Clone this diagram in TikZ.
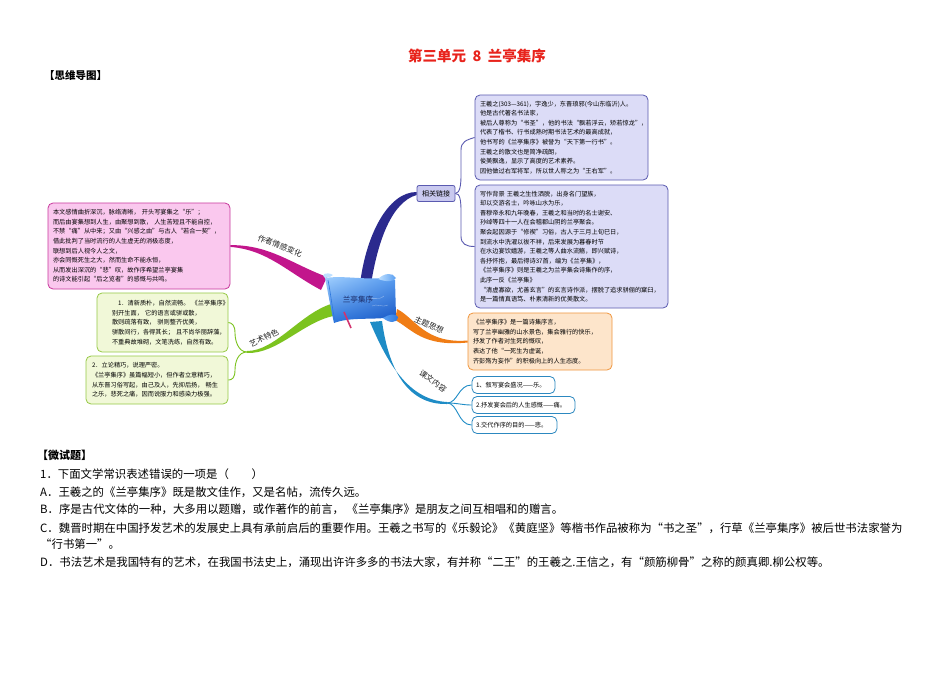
\documentclass[tikz,border=0pt]{standalone}
\usepackage{fontspec}
\setmainfont{Noto Sans CJK SC}
\usetikzlibrary{calc,shadings}
\definecolor{titlered}{HTML}{E8231C}
\definecolor{navybr}{HTML}{2B2A8E}
\definecolor{purpleline}{HTML}{5A5AB0}
\definecolor{purplefill}{HTML}{DCDCF7}
\definecolor{linkfill}{HTML}{C9C9EF}
\definecolor{magbr}{HTML}{C2168C}
\definecolor{pinkline}{HTML}{C8389C}
\definecolor{pinkfill}{HTML}{FAC8EE}
\definecolor{greenbr}{HTML}{7CC31F}
\definecolor{greenline}{HTML}{96C945}
\definecolor{greenfill}{HTML}{F1F8D8}
\definecolor{orangebr}{HTML}{F07D16}
\definecolor{orangeline}{HTML}{F0963E}
\definecolor{orangefill}{HTML}{FDE5CB}
\definecolor{bluebr}{HTML}{1E8CC6}
\definecolor{blueline}{HTML}{2C88C0}
\definecolor{scrolltl}{HTML}{A6D3FF}
\definecolor{scrolltr}{HTML}{5A9FF2}
\definecolor{scrollbl}{HTML}{2E78DE}
\definecolor{scrollbr}{HTML}{1553C2}
\definecolor{scrolllight}{HTML}{BFE0FF}
\definecolor{scrolltext}{HTML}{1A2A66}
\definecolor{pencol}{HTML}{D2336E}
\definecolor{labgray}{HTML}{222222}
\begin{document}
\begin{tikzpicture}[x=1pt,y=-1pt,
  box/.style={draw, rounded corners=5pt, line width=0.8pt, align=left,
    font=\fontsize{6.2}{9.6}\selectfont, inner ysep=2pt, text=black},
  brlab/.style={font=\fontsize{7.8}{8}\selectfont, text=labgray, inner sep=0pt},
  qline/.style={anchor=base west, font=\fontsize{11.4}{12}\selectfont, inner sep=0pt},
  brace/.style={line width=0.9pt}
]
\useasboundingbox (0,0) rectangle (950,672);
\fill[white] (0,0) rectangle (950,672);

% ---------- headings ----------
\node[font=\bfseries\fontsize{14.5}{15}\selectfont, text=titlered, inner sep=0pt] (title) at (477,56) {第三单元\hspace{0.45em}8\hspace{0.45em}兰亭集序};
\node[font=\bfseries\fontsize{10.5}{11}\selectfont, anchor=west, inner sep=0pt] (maphead) at (44,75) {【思维导图】};

% ---------- boxes ----------
\node[box, draw=purpleline, fill=purplefill, text width=163pt, inner xsep=5pt, minimum height=85pt] (rel1) at (561.5,137.5) {%
王羲之(303—361)，字逸少，东晋琅邪(今山东临沂)人。\\
他是古代著名书法家，\\
被后人尊称为“书圣”，他的书法“飘若浮云，矫若惊龙”，\\
代表了楷书、行书成熟时期书法艺术的最高成就，\\
他书写的《兰亭集序》被誉为“天下第一行书”。\\
王羲之的散文也是简净疏朗，\\
俊美飘逸，显示了高度的艺术素养。\\
因他做过右军将军，所以世人称之为“王右军”。};

\node[box, draw=purpleline, fill=purplefill, text width=183pt, inner xsep=5pt, minimum height=123pt] (rel2) at (571.5,246.5) {%
写作背景~王羲之生性洒脱，出身名门望族，\\
却以交游名士，吟咏山水为乐，\\
晋穆帝永和九年晚春，王羲之和当时的名士谢安、\\
孙绰等四十一人在会稽郡山阴的兰亭聚会。\\
聚会起因源于“修禊”习俗，古人于三月上旬巳日，\\
到流水中洗濯以祓不祥，后来发展为暮春时节\\
在水边宴饮嬉游，王羲之等人曲水流觞，即兴赋诗，\\
各抒怀抱，最后得诗37首，编为《兰亭集》，\\
《兰亭集序》则是王羲之为兰亭集会诗集作的序，\\
此序一反《兰亭集》\\
“清虚寡欲，尤善玄言”的玄言诗作派，摆脱了追求骈俪的窠臼，\\
是一篇情真语笃、朴素清新的优美散文。};

\node[draw=purpleline, fill=linkfill, rounded corners=2pt, line width=0.8pt, minimum width=38pt, minimum height=16pt, inner sep=1pt, font=\fontsize{7}{8}\selectfont] (link) at (436,193.5) {相关链接};

\node[box, draw=pinkline, fill=pinkfill, text width=172pt, inner xsep=5pt, minimum height=86pt] (emo) at (139,246) {%
本文感情曲折深沉，脉络清晰，~开头写宴集之“乐”；\\
而后由宴集想到人生，由聚想到散，~人生苦短且不能自控，\\
不禁“痛”从中来；又由“兴感之由”与古人“若合一契”，\\
借此批判了当时流行的人生虚无的消极态度，\\
联想到后人视今人之文，\\
亦会同慨死生之大，然而生命不能永恒，\\
从而发出深沉的“悲”叹，故作序希望兰亭宴集\\
的诗文能引起“后之览者”的感慨与共鸣。};

\node[box, draw=greenline, fill=greenfill, text width=101pt, inner xsep=15pt, minimum height=59pt] (art1) at (162.5,322.5) {%
\hspace*{6pt}1．清新质朴，自然流畅。~《兰亭集序》\\
别开生面，~它的语言或骈或散，\\
散则疏落有致，~骈则整齐优美，\\
骈散间行，各得其长；~且不尚华丽辞藻，\\
不重典故堆砌，文笔洗练，自然有致。};

\node[box, draw=greenline, fill=greenfill, text width=130pt, inner xsep=6pt, minimum height=48pt] (art2) at (157,380) {%
2．立论精巧，说理严密。\\
《兰亭集序》虽篇幅短小，但作者立意精巧，\\
从东晋习俗写起，由己及人，先抑后扬，~畅生\\
之乐，悲死之痛，因而说服力和感染力极强。};

\node[box, draw=orangeline, fill=orangefill, text width=134pt, inner xsep=5pt, minimum height=57pt] (theme) at (540,341.5) {%
《兰亭集序》是一篇诗集序言，\\
写了兰亭幽雅的山水景色，集会雅行的快乐，\\
抒发了作者对生死的慨叹，\\
表达了他“一死生为虚诞，\\
齐彭殇为妄作”的积极向上的人生态度。};

\node[box, draw=blueline, fill=white, text width=75pt, inner xsep=4pt, minimum height=17pt] (c1) at (513.5,385) {1、叙写宴会盛况——乐。};
\node[box, draw=blueline, fill=white, text width=95pt, inner xsep=4pt, minimum height=17pt] (c2) at (523.5,405) {2.抒发宴会后的人生感慨——痛。};
\node[box, draw=blueline, fill=white, text width=77pt, inner xsep=4pt, minimum height=17pt] (c3) at (514.5,425) {3.交代作序的目的——悲。};

% ---------- tapered branches ----------
% navy to link
\fill[navybr] (360,284) .. controls (366,235) and (388,192) .. ($(link.west)+(0,-1.5)$)
  -- ($(link.west)+(0,1.5)$) .. controls (392,202) and (378,240) .. (371,284) -- cycle;
% magenta to emotion box
\fill[magbr] ($(emo.east)+(0,-0.9)$) .. controls (270,245) and (290,263) .. (327,277)
  -- (321,290) .. controls (287,272) and (268,250) .. ($(emo.east)+(0,0.9)$) -- cycle;
% green to art
\coordinate (gj) at (247,352);
\fill[greenbr] ($(gj)+(0,-1)$) .. controls (275,351) and (300,314) .. (331,304)
  -- (333,316) .. controls (302,323) and (277,354) .. ($(gj)+(0,1)$) -- cycle;
% orange to theme
\fill[orangebr] (397,309) .. controls (415,318) and (425,344) .. ($(theme.west)+(0,-1)$)
  -- ($(theme.west)+(0,1)$) .. controls (422,347) and (412,329) .. (395,320) -- cycle;
% blue to content
\coordinate (bj) at (447,403);
\fill[bluebr] (370,322) .. controls (387,362) and (408,400) .. ($(bj)+(0,-1)$)
  -- ($(bj)+(0,1)$) .. controls (405,405) and (388,365) .. (382,321) -- cycle;

% ---------- braces ----------
\draw[purpleline, brace] (link.east) .. controls (460,193) and (461,185) .. (461,175)
  -- (461,150) .. controls (461,142) and (466,140) .. (rel1.west);
\draw[purpleline, brace] (link.east) .. controls (460,193) and (461,201) .. (461,211)
  -- (461,236) .. controls (461,244) and (466,246.5) .. (rel2.west);
\draw[greenbr, brace] (gj) .. controls (238,352) and (235,340) .. (235,333)
  .. controls (235,325) and (232,323) .. (art1.east);
\draw[greenbr, brace] (gj) .. controls (238,352) and (235,362) .. (235,370)
  .. controls (235,378) and (232,380) .. (art2.east);
\draw[bluebr, brace] (bj) .. controls (458,403) and (458,385) .. (c1.west);
\draw[bluebr, brace] (bj) .. controls (458,403) and (462,405) .. (c2.west);
\draw[bluebr, brace] (bj) .. controls (458,403) and (458,425) .. (c3.west);

% ---------- central scroll ----------
\shade[upper left=scrolltl, upper right=scrolltr, lower left=scrollbl, lower right=scrollbr]
  (325,278) .. controls (345,275) and (368,281) .. (389,277)
  -- (395,280) -- (396,316) .. controls (378,321) and (352,316) .. (334,323)
  .. controls (330,305) and (328,292) .. (325,278) -- cycle;
\fill[scrolllight] (325,278) .. controls (320,275) and (326,271) .. (333,275)
  .. controls (331,277) and (328,278) .. (325,278) -- cycle;
\shade[left color=scrolllight, right color=scrolltr]
  (378,279) .. controls (384,273) and (393,272) .. (396,278)
  .. controls (394,282) and (386,282) .. (378,279) -- cycle;
\shade[left color=scrolltr, right color=scrollbl]
  (383,318) .. controls (389,323) and (397,324) .. (398,317)
  .. controls (396,313) and (389,314) .. (383,318) -- cycle;
\draw[scrollbl, line width=0.6pt] (328,280) .. controls (331,295) and (332,308) .. (335,321);
\draw[white, opacity=0.5, line width=0.3pt] (368,300) .. controls (374,296) and (378,301) .. (384,296);
\draw[white, opacity=0.5, line width=0.3pt] (372,306) .. controls (377,303) and (381,308) .. (388,305);
\node[font=\fontsize{7.6}{8}\selectfont, text=scrolltext, inner sep=0pt] (centre) at (358,299.5) {兰亭集序};
\draw[pencol, line width=1.6pt] (344,312) -- (351,328);

% ---------- branch labels ----------
\node[brlab, rotate=-22] (lemo) at (280,246) {作者情感变化};
\node[brlab, rotate=25] (lart) at (264,338) {艺术特色};
\node[brlab, rotate=-25] (lthm) at (429,325) {主题思想};
\node[brlab, rotate=-36] (lcnt) at (433,381) {课文内容};

% ---------- exercise ----------
\node[qline, font=\bfseries\fontsize{11}{12}\selectfont] (qhead) at (37,459.5) {【微试题】};
\node[qline] (q0) at (40,478) {1．下面文学常识表述错误的一项是（\hspace{2em}）};
\node[qline] (qa) at (40,496) {A．王羲之的《兰亭集序》既是散文佳作，又是名帖，流传久远。};
\node[qline] (qb) at (40,513.5) {B．序是古代文体的一种，大多用以题赠，或作著作的前言，~《兰亭集序》是朋友之间互相唱和的赠言。};
\node[qline] (qc) at (40,532) {C．魏晋时期在中国抒发艺术的发展史上具有承前启后的重要作用。王羲之书写的《乐毅论》《黄庭坚》等楷书作品被称为“书之圣”，行草《兰亭集序》被后世书法家誉为};
\node[qline] (qc2) at (40,548.5) {“行书第一”。};
\node[qline] (qd) at (40,566) {D．书法艺术是我国特有的艺术，在我国书法史上，涌现出许许多多的书法大家，有并称“二王”的王羲之.王信之，有“颜筋柳骨”之称的颜真卿.柳公权等。};
\end{tikzpicture}
\end{document}
